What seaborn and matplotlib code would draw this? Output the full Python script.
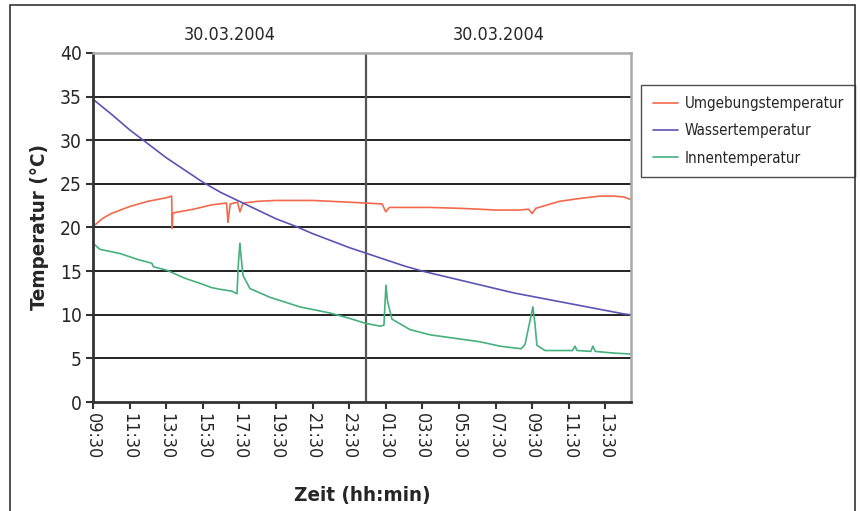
import matplotlib
matplotlib.use('Agg')
import matplotlib.pyplot as plt
from matplotlib import font_manager as fm
import seaborn as sns
import pandas as pd
from matplotlib.patches import Rectangle

# --- Data (hours since 09:30 on 30.03.2004) ---
wasser_h = [0, 1, 2, 3, 4, 5, 6, 7, 8, 9, 10, 11, 12, 13, 14, 15, 16, 17, 18,
            19, 20, 21, 22, 23, 24, 25, 26, 27, 28, 29, 29.4]
wasser_t = [34.7, 33.0, 31.2, 29.6, 28.0, 26.6, 25.2, 24.0, 23.0, 22.0, 21.0,
            20.2, 19.3, 18.5, 17.7, 17.0, 16.3, 15.6, 15.0, 14.5, 14.0, 13.5,
            13.0, 12.5, 12.1, 11.7, 11.3, 10.9, 10.5, 10.1, 10.0]

umgeb_h = [0, 0.5, 1, 2, 3, 4, 4.3, 4.33, 4.36, 4.45, 5.5, 6.5, 7.3, 7.38, 7.43,
           7.5, 7.7, 7.9, 8.03, 8.2, 9, 10, 11, 12, 13, 14, 14.92, 15.8, 16.0,
           16.2, 17, 18.4, 20, 21.1, 22, 23.3, 23.8, 24.0, 24.2, 25.5, 26.5,
           27.7, 28.5, 29.0, 29.4]
umgeb_t = [20.1, 21.0, 21.6, 22.4, 23.0, 23.4, 23.6, 19.9, 21.6, 21.7, 22.1,
           22.6, 22.8, 20.6, 21.5, 22.7, 22.8, 22.9, 21.8, 22.8, 23.0, 23.1,
           23.1, 23.1, 23.0, 22.9, 22.8, 22.7, 21.8, 22.3, 22.3, 22.3, 22.2,
           22.1, 22.0, 22.0, 22.1, 21.6, 22.2, 23.0, 23.3, 23.6, 23.6, 23.5,
           23.2]

innen_h = [0, 0.38, 1.5, 2.5, 3.22, 3.3, 4.04, 5.0, 5.85, 6.5, 7.0, 7.6, 7.87,
           7.95, 8.03, 8.1, 8.2, 8.58, 9.67, 11.31, 12.95, 14.0, 14.92, 15.68,
           15.9, 16.01, 16.1, 16.34, 17.32, 18.42, 21.15, 22.24, 23.4, 23.61,
           23.8, 24.04, 24.15, 24.26, 24.7, 26.2, 26.34, 26.45, 27.2, 27.32,
           27.45, 28.5, 29.4]
innen_t = [18.2, 17.5, 17.0, 16.3, 15.9, 15.5, 15.1, 14.2, 13.6, 13.1, 12.9,
           12.7, 12.4, 16.0, 18.2, 16.5, 14.5, 13.0, 12.0, 10.9, 10.2, 9.6,
           9.0, 8.7, 8.8, 13.4, 11.5, 9.5, 8.3, 7.7, 6.9, 6.4, 6.1, 6.6, 8.5,
           10.9, 9.0, 6.5, 5.9, 5.9, 6.4, 5.9, 5.8, 6.4, 5.8, 5.6, 5.5]

series_names = ['Umgebungstemperatur', 'Wassertemperatur', 'Innentemperatur']
series_colors = ['#f2694b', '#5a54b4', '#46b07f']

tick_hours = list(range(0, 29, 2))
tick_labels = ['09:30', '11:30', '13:30', '15:30', '17:30', '19:30', '21:30',
               '23:30', '01:30', '03:30', '05:30', '07:30', '09:30', '11:30',
               '13:30']
divider_h = 14.92
date_labels = ['30.03.2004', '30.03.2004']

df = pd.concat([
    pd.DataFrame({'h': umgeb_h, 'T': umgeb_t, 'serie': series_names[0]}),
    pd.DataFrame({'h': wasser_h, 'T': wasser_t, 'serie': series_names[1]}),
    pd.DataFrame({'h': innen_h, 'T': innen_t, 'serie': series_names[2]}),
], ignore_index=True)

sns.set_style('white')

# pick a narrow font if one is around (reference uses a condensed Helvetica)
fnames = [f.fname for f in fm.fontManager.ttflist]
stretch = 'normal'
if any('LiberationSansNarrow' in f for f in fnames):
    FONT = ['Liberation Sans Narrow', 'DejaVu Sans']
    scale = 1.0
elif any('DejaVuSansCondensed' in f for f in fnames):
    FONT = ['DejaVu Sans', 'DejaVu Sans']
    stretch = 'condensed'
    scale = 0.92
else:
    FONT = ['Liberation Sans', 'DejaVu Sans']
    scale = 0.88
plt.rcParams['font.family'] = FONT
plt.rcParams['font.stretch'] = stretch

fig = plt.figure(figsize=(8.6, 5.11), dpi=100)
ax = fig.add_axes([0.1081, 0.2133, 0.6256, 0.683])

# outer frame
fig.patches.append(Rectangle((10 / 860, -0.01), 845 / 860, 1 - 5 / 511 + 0.01,
                             transform=fig.transFigure, fill=False,
                             edgecolor='#333333', linewidth=1.2))

sns.lineplot(data=df, x='h', y='T', hue='serie', palette=series_colors,
             hue_order=series_names, sort=False, estimator=None, ax=ax,
             linewidth=1.2)

for yv in range(5, 40, 5):
    ax.axhline(yv, color='#111111', linewidth=1.3, zorder=0.5)
ax.axvline(divider_h, color='#555555', linewidth=1.6, zorder=0.6)

ax.set_xlim(0, 29.4)
ax.set_ylim(0, 40)
ax.set_yticks(range(0, 41, 5))
ax.set_xticks(tick_hours)
ax.set_xticklabels(tick_labels, rotation=-90, fontsize=14 * scale)
ax.tick_params(axis='y', labelsize=15 * scale)
ax.tick_params(direction='out', length=5, width=1.5, color='#333333',
               left=True, bottom=True, pad=3)

for s in ['left', 'bottom']:
    ax.spines[s].set_color('#333333')
    ax.spines[s].set_linewidth(2)
for s in ['top', 'right']:
    ax.spines[s].set_color('#aaaaaa')
    ax.spines[s].set_linewidth(1.8)

ax.set_xlabel('Zeit (hh:min)', fontsize=16 * scale, fontweight='bold',
              labelpad=19)
ax.set_ylabel('Temperatur (°C)', fontsize=16 * scale, fontweight='bold',
              labelpad=8)

ax.text(divider_h / 2, 42.1, date_labels[0], ha='center', va='center',
        fontsize=14 * scale)
ax.text((divider_h + 29.4) / 2, 42.1, date_labels[1], ha='center',
        va='center', fontsize=14 * scale)

leg = ax.legend(loc='upper right', bbox_to_anchor=(855 / 860, 1 - 85 / 511),
                bbox_transform=fig.transFigure, frameon=True, fancybox=False,
                fontsize=10.9, handlelength=1.7, handletextpad=0.4,
                borderpad=0.75, borderaxespad=0, labelspacing=0.8,
                title=None)
leg.get_frame().set_edgecolor('#222222')
leg.get_frame().set_linewidth(1.0)

fig.savefig('out.png', dpi=100)
